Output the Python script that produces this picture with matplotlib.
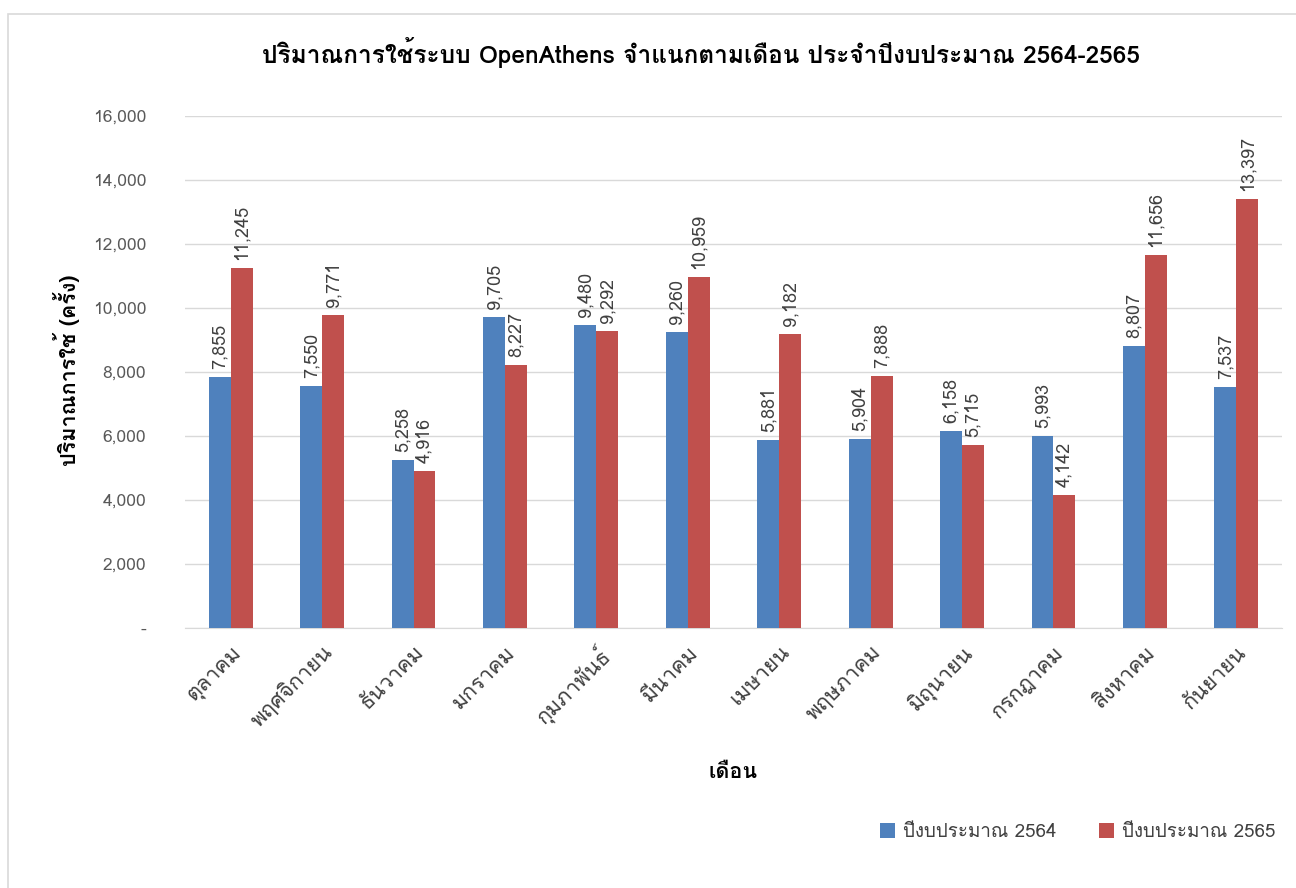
import matplotlib
matplotlib.use('Agg')
import matplotlib.pyplot as plt
import numpy as np
from matplotlib import font_manager
from matplotlib.ft2font import FT2Font
from matplotlib.patches import Rectangle

months = ['ตุลาคม', 'พฤศจิกายน', 'ธันวาคม', 'มกราคม', 'กุมภาพันธ์', 'มีนาคม',
          'เมษายน', 'พฤษภาคม', 'มิถุนายน', 'กรกฎาคม', 'สิงหาคม', 'กันยายน']
fy2564 = [7855, 7550, 5258, 9705, 9480, 9260, 5881, 5904, 6158, 5993, 8807, 7537]
fy2565 = [11245, 9771, 4916, 8227, 9292, 10959, 9182, 7888, 5715, 4142, 11656, 13397]
series_names = ['ปีงบประมาณ 2564', 'ปีงบประมาณ 2565']
yticks = [0, 2000, 4000, 6000, 8000, 10000, 12000, 14000, 16000]

title = 'ปริมาณการใช้ระบบ OpenAthens จำแนกตามเดือน ประจำปีงบประมาณ 2564-2565'
ylabel = 'ปริมาณการใช้ (ครั้ง)'
xlabel = 'เดือน'


def find_thai_font():
    # family name -> has a bold face
    found = {}
    for f in font_manager.fontManager.ttflist:
        try:
            ft = FT2Font(f.fname)
            if not ft.get_char_index(ord('ก')):
                continue
        except Exception:
            continue
        w = f.weight if isinstance(f.weight, int) else 400
        found[f.name] = found.get(f.name, False) or w >= 600
    names = sorted(found, key=lambda n: (not found[n], 'looped' in n.lower()))
    for pref in ['Noto Sans Thai', 'Leelawadee', 'Tahoma', 'Loma', 'Garuda']:
        for n in names:
            if pref.lower() in n.lower() and found[n]:
                return n
    return names[0] if names else None


thai = find_thai_font()
families = ([thai] if thai else []) + ['DejaVu Sans']
plt.rcParams['font.family'] = families

BLUE = '#4F81BD'
RED = '#C0504D'
GRID = '#D9D9D9'

fig = plt.figure(figsize=(12.96, 8.88), dpi=100)
ax = fig.add_axes([185 / 1296, 1 - 628 / 888, 1097 / 1296, 512 / 888])

x = np.arange(len(months))
w = 0.24
b1 = ax.bar(x - w / 2, fy2564, w, color=BLUE, label=series_names[0], zorder=3)
b2 = ax.bar(x + w / 2, fy2565, w, color=RED, label=series_names[1], zorder=3)

for xs, vals in [(x - w / 2, fy2564), (x + w / 2, fy2565)]:
    for xi, v in zip(xs, vals):
        ax.text(xi, v + 250, f'{v:,}', rotation=90, ha='center', va='bottom',
                fontsize=13, color='#404040')

ax.set_xlim(-0.5, len(months) - 0.5)
ax.set_ylim(0, 16000)
ax.set_yticks(yticks)
ax.set_yticklabels(['-' if v == 0 else f'{v:,}' for v in yticks])
ax.yaxis.grid(True, color=GRID, linewidth=1, zorder=0)
ax.set_axisbelow(True)
for s in ['top', 'right', 'left']:
    ax.spines[s].set_visible(False)
ax.spines['bottom'].set_color(GRID)
ax.tick_params(axis='both', length=0, colors='#595959', labelsize=12.5)
ax.tick_params(axis='y', pad=28)

ax.set_xticks(x)
ax.set_xticklabels(months, rotation=45, ha='right', rotation_mode='anchor',
                   color='#404040', fontsize=15.5)
ax.tick_params(axis='x', pad=10)

fig.text(701 / 1296, 1 - 52 / 888, title, ha='center', va='center',
         fontsize=17.6, fontweight='bold', color='#000000')
fig.text(66 / 1296, 1 - 370 / 888, ylabel, ha='center', va='center', rotation=90,
         fontsize=15.5, fontweight='bold')
fig.text(733 / 1296, 1 - 772 / 888, xlabel, ha='center', va='center',
         fontsize=15.5, fontweight='bold')

fig.legend(handles=[b1, b2], loc='center right',
           bbox_to_anchor=(1292 / 1296, 1 - 832 / 888), ncol=2, frameon=False,
           fontsize=13.5, handlelength=0.8, handleheight=0.8, handletextpad=0.4,
           columnspacing=2.3, labelcolor='#404040')

fig.patches.append(Rectangle((8 / 1296, -0.01), 1.0, 1 - 14 / 888 + 0.01,
                             transform=fig.transFigure, fill=False,
                             edgecolor=GRID, linewidth=1.2))

fig.savefig('out.png', dpi=100)
